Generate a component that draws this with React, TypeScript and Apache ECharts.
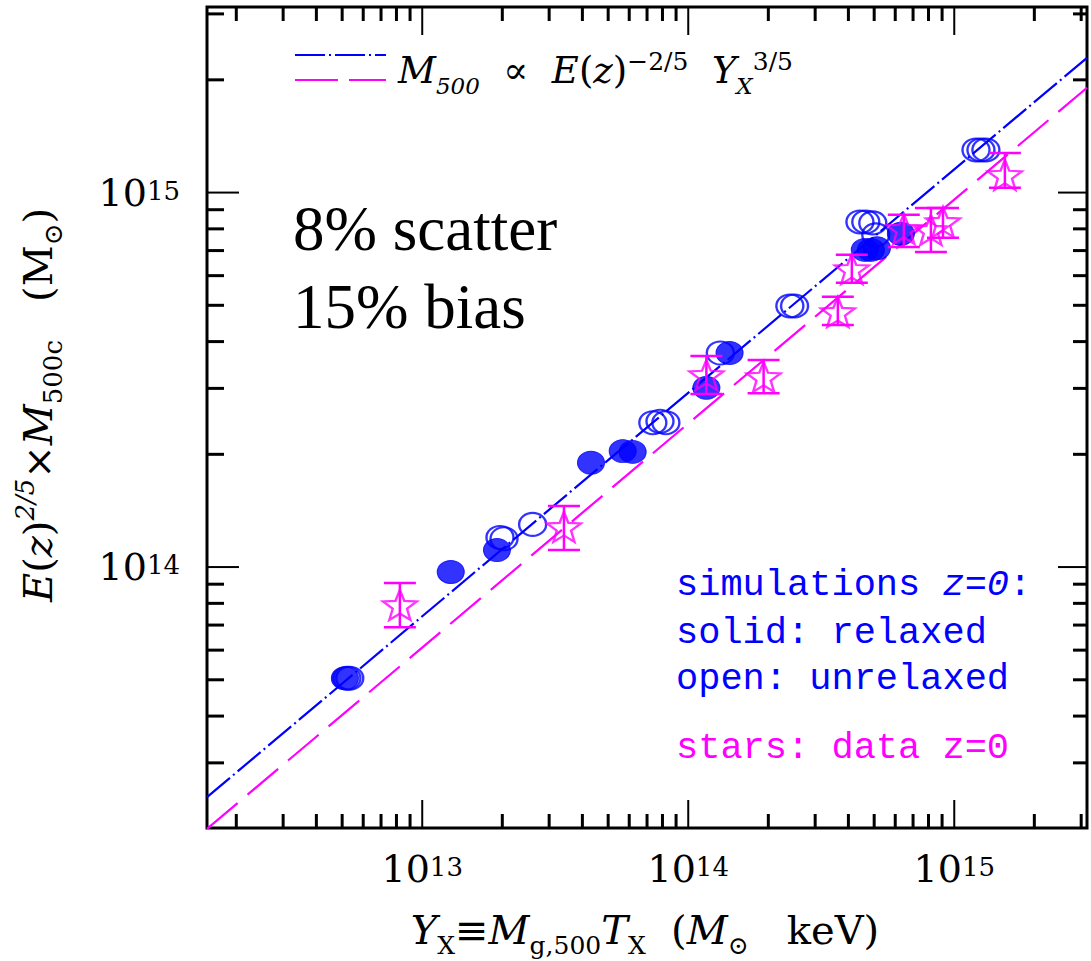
import React, { useEffect, useRef } from 'react';
import * as echarts from 'echarts';

// ---- axis extents ----
const X_MIN = 1.552e12;
const X_MAX = 3.155e15;
const Y_MIN = 2.01e13;
const Y_MAX = 3.13e15;

// ---- tick values ----
const X_MAJOR = [1e13, 1e14, 1e15];
const X_MINOR = [
  2e12, 3e12, 4e12, 5e12, 6e12, 7e12, 8e12, 9e12,
  2e13, 3e13, 4e13, 5e13, 6e13, 7e13, 8e13, 9e13,
  2e14, 3e14, 4e14, 5e14, 6e14, 7e14, 8e14, 9e14,
  2e15, 3e15,
];
const Y_MAJOR = [1e14, 1e15];
const Y_MINOR = [
  3e13, 4e13, 5e13, 6e13, 7e13, 8e13, 9e13,
  2e14, 3e14, 4e14, 5e14, 6e14, 7e14, 8e14, 9e14,
  2e15, 3e15,
];

// ---- power-law relations (end points read at the frame edges) ----
const fitX = [1.552e12, 3.155e15];
const simFitY = [2.43e13, 2.29e15];
const dataFitY = [2.0e13, 1.905e15];

// ---- simulated clusters: [Y_X, M500] ----
const relaxed = [
  [5.12e12, 5.05e13],
  [1.28e13, 9.7e13],
  [1.91e13, 1.11e14],
  [4.31e13, 1.9e14],
  [5.67e13, 2.04e14],
  [6.18e13, 2.03e14],
  [1.17e14, 3.01e14],
  [1.43e14, 3.73e14],
  [4.61e14, 7.03e14],
  [4.86e14, 7.03e14],
  [5.12e14, 7.1e14],
  [6.3e14, 7.76e14],
];
const unrelaxed = [
  [5.21e12, 5.05e13],
  [5.34e12, 5.05e13],
  [1.96e13, 1.2e14],
  [2.03e13, 1.19e14],
  [2.6e13, 1.3e14],
  [7.36e13, 2.43e14],
  [7.83e13, 2.45e14],
  [8.24e13, 2.43e14],
  [1.32e14, 3.73e14],
  [2.41e14, 4.98e14],
  [2.51e14, 4.98e14],
  [4.42e14, 8.35e14],
  [4.65e14, 8.35e14],
  [4.94e14, 8.3e14],
  [5.07e14, 7.71e14],
  [1.207e15, 1.3e15],
  [1.26e15, 1.3e15],
  [1.315e15, 1.3e15],
];

// ---- observed clusters: Y_X, M500, lower, upper ----
const obsX = [8.24e12, 3.41e13, 1.17e14, 1.92e14, 3.65e14, 4.12e14, 6.46e14, 8.17e14, 9.07e14, 1.55e15];
const obsY = [7.92e13, 1.28e14, 3.26e14, 3.22e14, 4.8e14, 6.25e14, 8.0e14, 7.95e14, 8.35e14, 1.115e15];
const obsLo = [6.91e13, 1.11e14, 2.9e14, 2.91e14, 4.43e14, 5.74e14, 7.16e14, 6.94e14, 7.57e14, 1.03e15];
const obsHi = [9.06e13, 1.455e14, 3.66e14, 3.57e14, 5.27e14, 6.82e14, 8.72e14, 9.1e14, 9.1e14, 1.276e15];

const BLUE = '#0000ff';
const MAGENTA = '#ff00ff';
const SERIF = 'DejaVu Serif';
const TIMES = 'Liberation Serif';
const MONO = 'Liberation Mono';

const ELLIPSE = 'path://M-100,0A100,100,0,1,1,100,0A100,100,0,1,1,-100,0Z';
const STAR =
  'path://M0,-100L24.7,-34L95.1,-30.9L40,13L58.8,80.9L0,42L-58.8,80.9L-40,13L-95.1,-30.9L-24.7,-34Z';

const tickFormatter = (v: number) => {
  const e = Math.log10(v);
  const r = Math.round(e);
  if (Math.abs(e - r) > 1e-6) return '';
  return `{b|10}{s|${r}}`;
};
const tickRich = {
  b: { fontFamily: SERIF, fontSize: 38, color: '#000', lineHeight: 40 },
  s: { fontFamily: SERIF, fontSize: 26, color: '#000', verticalAlign: 'top', height: 36, lineHeight: 36 },
};

const mainRich = (size: number, lh: number, color: string, fam: string) => ({
  n: { fontFamily: fam, fontSize: size, fill: color, lineHeight: lh },
  i: { fontFamily: fam, fontSize: size, fill: color, lineHeight: lh, fontStyle: 'italic' },
});

export default function App() {
  const ref = useRef<HTMLDivElement>(null);

  useEffect(() => {
    if (!ref.current) return;
    const chart = echarts.init(ref.current, undefined, { renderer: 'svg' });

    const xTicks = [
      ...X_MAJOR.map((v) => [v, Y_MIN, 1]),
      ...X_MINOR.map((v) => [v, Y_MIN, 0]),
    ];
    const yTicks = [
      ...Y_MAJOR.map((v) => [X_MIN, v, 1]),
      ...Y_MINOR.map((v) => [X_MIN, v, 0]),
    ];
    const errData = obsX.map((x, i) => [x, obsLo[i], obsHi[i]]);
    const starData = obsX.map((x, i) => [x, obsY[i]]);

    const option: any = {
      animation: false,
      backgroundColor: '#fff',
      grid: {
        left: 207,
        top: 7,
        width: 880,
        height: 821,
        show: true,
        borderColor: '#000',
        borderWidth: 3,
        backgroundColor: 'transparent',
      },
      xAxis: {
        type: 'log',
        logBase: 10,
        min: X_MIN,
        max: X_MAX,
        axisLine: { show: false },
        axisTick: { show: false },
        splitLine: { show: false },
        axisLabel: { margin: 21, formatter: tickFormatter, rich: tickRich },
      },
      yAxis: {
        type: 'log',
        logBase: 10,
        min: Y_MIN,
        max: Y_MAX,
        axisLine: { show: false },
        axisTick: { show: false },
        splitLine: { show: false },
        axisLabel: { margin: 27, formatter: tickFormatter, rich: tickRich },
      },
      graphic: [
        // legend samples
        {
          type: 'line',
          shape: { x1: 295, y1: 55, x2: 386, y2: 55 },
          style: { stroke: BLUE, lineWidth: 2.2, lineDash: [30, 4, 2, 4] },
        },
        {
          type: 'line',
          shape: { x1: 295, y1: 80, x2: 386, y2: 80 },
          style: { stroke: MAGENTA, lineWidth: 2.2, lineDash: [43, 11] },
        },
        {
          type: 'text',
          x: 398,
          y: 70,
          style: {
            text: '{i|M}{sb|500}{n|  ∝  }{i|E}{n|(}{i|z}{n|)}{sp|−2/5}{n|  }{i|Y}{sb|X}{sp|3/5}',
            align: 'left',
            verticalAlign: 'middle',
            rich: {
              ...mainRich(37, 54, '#000', SERIF),
              sb: { fontFamily: SERIF, fontSize: 23, fontStyle: 'italic', fill: '#000', verticalAlign: 'bottom', height: 22, lineHeight: 22 },
              sp: { fontFamily: SERIF, fontSize: 25, fill: '#000', verticalAlign: 'top', height: 36, lineHeight: 36 },
            },
          },
        },
        {
          type: 'text',
          x: 293,
          y: 229,
          style: { text: '8% scatter', fontFamily: TIMES, fontSize: 63, fill: '#000', align: 'left', verticalAlign: 'middle' },
        },
        {
          type: 'text',
          x: 293,
          y: 307,
          style: { text: '15% bias', fontFamily: TIMES, fontSize: 63, fill: '#000', align: 'left', verticalAlign: 'middle' },
        },
        {
          type: 'text',
          x: 676,
          y: 585,
          style: {
            text: '{n|simulations }{i|z=0}{n|:}',
            align: 'left',
            verticalAlign: 'middle',
            rich: mainRich(37, 40, BLUE, MONO),
          },
        },
        {
          type: 'text',
          x: 676,
          y: 633,
          style: { text: 'solid: relaxed', fontFamily: MONO, fontSize: 37, fill: BLUE, align: 'left', verticalAlign: 'middle' },
        },
        {
          type: 'text',
          x: 676,
          y: 679,
          style: { text: 'open: unrelaxed', fontFamily: MONO, fontSize: 37, fill: BLUE, align: 'left', verticalAlign: 'middle' },
        },
        {
          type: 'text',
          x: 676,
          y: 748,
          style: { text: 'stars: data z=0', fontFamily: MONO, fontSize: 37, fill: MAGENTA, align: 'left', verticalAlign: 'middle' },
        },
        // axis titles
        {
          type: 'text',
          x: 645,
          y: 930,
          style: {
            text: '{i|Y}{sb|X}{n|≡}{i|M}{sb|g,500}{i|T}{sb|X}{n|  (}{i|M}{sb|⊙}{n|   keV)}',
            align: 'center',
            verticalAlign: 'middle',
            rich: {
              ...mainRich(40, 56, '#000', SERIF),
              sb: { fontFamily: SERIF, fontSize: 25, fill: '#000', verticalAlign: 'bottom', height: 25, lineHeight: 25 },
            },
          },
        },
        {
          type: 'text',
          x: 38,
          y: 405,
          rotation: Math.PI / 2,
          style: {
            text: '{i|E}{n|(}{i|z}{n|)}{sp|2/5}{n|×}{i|M}{sb|500c}{n|   (M}{sb|⊙}{n|)}',
            align: 'center',
            verticalAlign: 'middle',
            rich: {
              ...mainRich(40, 56, '#000', SERIF),
              sb: { fontFamily: SERIF, fontSize: 26, fill: '#000', verticalAlign: 'bottom', height: 26, lineHeight: 26 },
              sp: { fontFamily: SERIF, fontSize: 26, fontStyle: 'italic', fill: '#000', verticalAlign: 'top', height: 30, lineHeight: 30 },
            },
          },
        },
      ],
      series: [
        {
          name: 'sim fit',
          type: 'line',
          data: fitX.map((x, i) => [x, simFitY[i]]),
          showSymbol: false,
          symbol: 'none',
          lineStyle: { color: BLUE, width: 2.2, type: [30, 4, 2, 4] },
          silent: true,
          z: 2,
        },
        {
          name: 'data fit',
          type: 'line',
          data: fitX.map((x, i) => [x, dataFitY[i]]),
          showSymbol: false,
          symbol: 'none',
          lineStyle: { color: MAGENTA, width: 2.2, type: [40, 13] },
          silent: true,
          z: 2,
        },
        {
          name: 'unrelaxed',
          type: 'scatter',
          data: unrelaxed,
          symbol: ELLIPSE,
          symbolSize: [27, 23],
          itemStyle: { color: 'rgba(0,0,0,0)', borderColor: BLUE, borderWidth: 2.2 },
          z: 3,
        },
        {
          name: 'relaxed',
          type: 'scatter',
          data: relaxed,
          symbol: ELLIPSE,
          symbolSize: [27, 23],
          itemStyle: { color: BLUE, borderColor: BLUE, borderWidth: 1 },
          z: 4,
        },
        {
          name: 'errors',
          type: 'custom',
          coordinateSystem: 'cartesian2d',
          data: errData,
          encode: { x: 0, y: [1, 2] },
          z: 5,
          silent: true,
          renderItem: (params: any, api: any) => {
            const x = api.value(0);
            const lo = api.coord([x, api.value(1)]);
            const hi = api.coord([x, api.value(2)]);
            const st = { stroke: MAGENTA, lineWidth: 2.5 };
            return {
              type: 'group',
              children: [
                { type: 'line', shape: { x1: lo[0], y1: lo[1], x2: hi[0], y2: hi[1] }, style: st },
                { type: 'line', shape: { x1: lo[0] - 16, y1: lo[1], x2: lo[0] + 16, y2: lo[1] }, style: st },
                { type: 'line', shape: { x1: hi[0] - 16, y1: hi[1], x2: hi[0] + 16, y2: hi[1] }, style: st },
              ],
            };
          },
        },
        {
          name: 'data',
          type: 'scatter',
          data: starData,
          symbol: STAR,
          symbolSize: [34, 30],
          itemStyle: { color: 'rgba(0,0,0,0)', borderColor: MAGENTA, borderWidth: 2.3 },
          z: 6,
        },
        {
          name: 'xticks',
          type: 'custom',
          coordinateSystem: 'cartesian2d',
          data: xTicks,
          encode: { x: 0, y: 1 },
          silent: true,
          z: 10,
          renderItem: (params: any, api: any) => {
            const v = api.value(0);
            const major = api.value(2) === 1;
            const b = api.coord([v, Y_MIN]);
            const t = api.coord([v, Y_MAX]);
            const len = major ? 28 : 14;
            const st = { stroke: '#000', lineWidth: major ? 2 : 3 };
            return {
              type: 'group',
              children: [
                { type: 'line', shape: { x1: b[0], y1: b[1], x2: b[0], y2: b[1] - len }, style: st },
                { type: 'line', shape: { x1: t[0], y1: t[1], x2: t[0], y2: t[1] + len }, style: st },
              ],
            };
          },
        },
        {
          name: 'yticks',
          type: 'custom',
          coordinateSystem: 'cartesian2d',
          data: yTicks,
          encode: { x: 0, y: 1 },
          silent: true,
          z: 10,
          renderItem: (params: any, api: any) => {
            const v = api.value(1);
            const major = api.value(2) === 1;
            const l = api.coord([X_MIN, v]);
            const r = api.coord([X_MAX, v]);
            const st = { stroke: '#000', lineWidth: major ? 2 : 3 };
            return {
              type: 'group',
              children: [
                { type: 'line', shape: { x1: l[0], y1: l[1], x2: l[0] + (major ? 32 : 17), y2: l[1] }, style: st },
                { type: 'line', shape: { x1: r[0], y1: r[1], x2: r[0] - (major ? 29 : 14), y2: r[1] }, style: st },
              ],
            };
          },
        },
      ],
    };

    chart.setOption(option);
    return () => chart.dispose();
  }, []);

  return (
    <div
      ref={ref}
      style={{ position: 'absolute', left: 0, top: 0, width: 1091, height: 961, background: '#fff' }}
    />
  );
}
